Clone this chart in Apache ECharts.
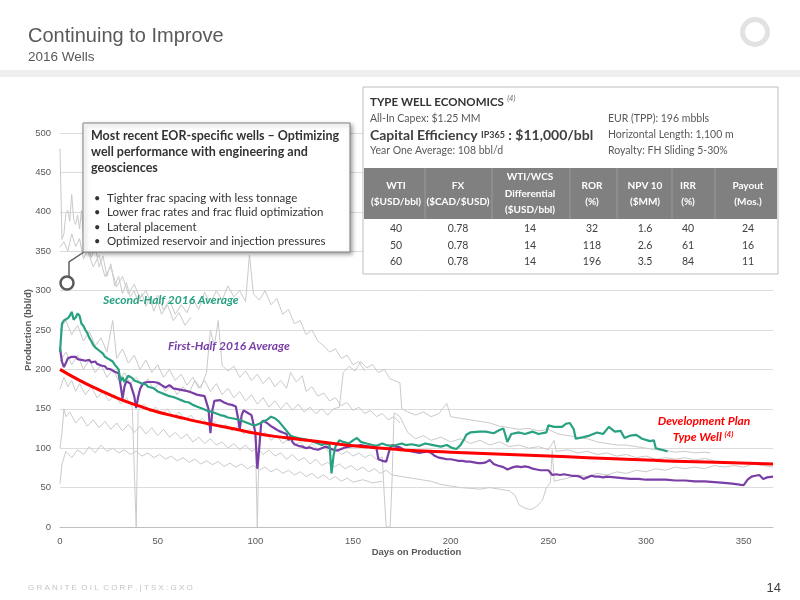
<!DOCTYPE html>
<html>
<head>
<meta charset="utf-8">
<script src="https://cdn.jsdelivr.net/npm/echarts@6/dist/echarts.min.js"></script>
<style>html,body{margin:0;padding:0;background:#fff;}#c{width:800px;height:600px;}</style>
</head>
<body>
<div id="c"></div>
<script>
// ---------- DATA ----------
const typeWell = [[0,200],[10,186],[20,174],[30,163],[40,154],[50,146],[60,140],[70,134],[80,129],[90,124],[100,119],[110,115],[120,112],[130,109],[140,106],[150,103],[160,101],[170,99],[180,97],[200,95],[220,93],[240,91],[260,89],[280,87],[300,85],[320,83],[340,82],[365,80]];

const secondHalfAvg = [[0,222],[1,258],[2,262],[3,260],[4,265],[5,268],[6,273],[7,263],[8,266],[9,271],[10,268],[11,258],[12,255],[13,250],[14,246],[15,240],[16,236],[17,231],[18,228],[19,226],[20,224],[21,222],[22,220],[23,216],[24,218],[25,213],[26,212],[27,210],[28,206],[29,208],[30,200],[31,185],[32,190],[33,184],[34,188],[35,192],[36,191],[37,189],[38,186],[39,187],[40,184],[41,185],[42,182],[43,180],[44,181],[45,178],[46,178],[48,176],[50,172],[52,170],[54,168],[56,166],[58,165],[60,163],[62,161],[64,159],[66,158],[68,155],[70,153],[72,151],[74,149],[76,147],[78,146],[80,144],[82,142],[84,141],[86,139],[88,138],[90,137],[92,136],[94,134],[96,132],[98,130],[100,129],[102,131],[104,134],[106,136],[108,140],[110,138],[112,134],[114,128],[116,122],[118,116],[120,114],[122,113],[124,112],[126,111],[128,110],[130,108],[132,106],[134,104],[136,106],[138,104],[139,68],[140,90],[141,102],[143,110],[145,108],[148,106],[150,110],[152,113],[154,108],[157,106],[160,104],[162,103],[165,106],[167,104],[170,103],[172,104],[175,106],[177,104],[180,105],[184,103],[187,106],[191,104],[195,102],[198,104],[201,100],[203,99],[205,104],[207,112],[208,117],[210,120],[211,122],[215,121],[218,121],[222,119],[225,123],[227,125],[228,123],[229,108],[231,118],[235,120],[238,118],[242,121],[245,118],[249,120],[250,129],[253,127],[257,127],[259,131],[261,132],[263,124],[264,112],[268,114],[271,116],[275,120],[278,118],[281,127],[284,121],[287,122],[289,113],[292,116],[295,117],[298,112],[302,109],[304,110],[305,100],[308,98],[311,96]];

const firstHalfAvg = [[0,227],[1,210],[2,203],[3,208],[4,214],[5,213],[6,216],[7,214],[8,216],[9,213],[10,214],[11,212],[12,213],[13,211],[14,210],[15,212],[16,209],[17,208],[18,210],[19,207],[20,206],[21,205],[22,203],[23,204],[24,201],[25,200],[26,200],[27,198],[28,197],[29,198],[30,195],[31,180],[32,163],[33,178],[34,185],[35,184],[36,182],[37,180],[38,166],[39,151],[40,165],[41,175],[42,180],[43,183],[44,182],[45,184],[46,183],[48,184],[50,183],[52,180],[54,177],[55,175],[56,180],[57,182],[58,176],[60,175],[62,174],[64,173],[66,172],[68,170],[70,168],[72,167],[74,166],[75,167],[76,150],[77,119],[78,148],[79,160],[80,162],[82,161],[84,158],[86,156],[88,155],[90,153],[91,140],[92,124],[93,142],[94,148],[96,145],[98,142],[99,140],[100,120],[101,74],[102,100],[103,132],[104,135],[106,132],[108,128],[110,125],[112,122],[114,120],[116,118],[117,110],[118,115],[119,108],[120,105],[122,103],[124,102],[126,100],[128,101],[130,99],[132,98],[134,100],[136,102],[138,100],[140,98],[142,97],[144,99],[146,101],[148,102],[150,103],[152,103],[154,104],[156,103],[158,102],[160,101],[162,100],[163,86],[165,84],[167,83],[168,92],[169,100],[170,104],[172,102],[174,101],[176,98],[178,97],[180,96],[182,95],[184,94],[186,95],[188,96],[190,94],[192,90],[194,88],[196,87],[198,86],[200,86],[202,85],[204,84],[206,84],[208,83],[210,83],[212,82],[214,81],[216,81],[218,82],[220,85],[222,80],[224,78],[225,77],[227,76],[229,73],[230,72],[232,76],[234,77],[236,76],[238,77],[240,76],[242,74],[244,73],[246,72],[248,72],[250,72],[252,66],[254,67],[256,66],[258,67],[260,66],[262,65],[264,65],[266,64],[268,61],[270,63],[272,65],[274,64],[276,64],[278,63],[280,64],[284,63],[288,62],[292,61],[296,61],[300,60],[305,60],[310,60],[315,59],[320,59],[325,58],[330,58],[335,57],[340,56],[344,55],[347,54],[350,53],[352,60],[354,64],[356,65],[358,66],[360,61],[362,63],[365,64]];

const greyWellA = [[0,480],[1,365],[2,372],[3,398],[4,402],[5,388],[6,422],[7,390],[8,384],[9,396],[10,378],[11,402],[12,372],[13,350],[14,362],[16,342],[18,356],[20,330],[22,344],[24,318],[26,334],[28,306],[30,318],[32,296],[34,310],[36,292],[38,300],[40,284],[42,296],[44,280],[46,292],[48,274],[50,286],[52,270],[55,282],[58,262],[61,272],[64,256],[67,266]];
const greyWellB = [[0,355],[2,362],[4,350],[6,372],[8,356],[10,366],[12,340],[14,352],[17,330],[20,345],[23,318],[26,330],[29,305],[32,318],[35,296],[38,308],[41,290],[44,300],[47,282],[50,294],[53,276],[56,288],[59,270],[62,282],[65,272],[68,290],[71,276],[74,298],[77,284],[80,300],[83,288],[86,306],[89,292],[92,300],[95,286],[97,345],[99,296],[102,288],[105,300],[108,282],[111,290],[114,270],[117,276],[120,258],[123,262],[126,244],[129,250],[132,236],[135,230],[138,222],[141,226],[144,214],[147,218],[150,206],[153,210],[156,198]];
const greyWellC = [[0,250],[3,262],[6,244],[9,256],[12,236],[15,248],[18,230],[21,240],[24,222],[27,262],[29,214],[32,226],[35,208],[38,218],[41,200],[44,212],[47,196],[50,206],[53,190],[56,200],[59,186],[62,194],[65,180],[68,190],[71,176],[74,186],[77,172],[80,182],[83,168],[86,176],[89,164],[92,172],[95,160],[98,168],[101,156],[104,164],[107,152],[110,160],[113,150],[116,158],[119,148],[122,156],[125,146],[128,152],[131,144],[134,150],[137,142],[140,150],[143,152],[145,196],[148,204],[151,198],[154,210],[157,202],[160,206],[163,196],[166,200],[169,188],[172,185],[174,183],[175,150],[178,146],[182,142],[186,146],[190,140],[194,144],[198,157],[200,140],[205,138],[210,136],[215,134],[220,132],[225,128],[230,126],[235,124],[240,125],[245,122],[250,124],[255,118],[260,116],[265,114],[270,112],[275,108],[280,106],[285,104],[290,104],[295,102],[300,100],[305,98],[310,97],[315,95],[320,96],[325,94],[330,95],[333,94]];
const greyWellD = [[0,175],[2,190],[4,178],[6,186],[8,172],[10,182],[13,168],[16,178],[19,164],[22,172],[25,160],[28,168],[31,156],[34,164],[37,152],[38,150],[39,0],[40,148],[43,156],[46,146],[49,152],[52,142],[55,150],[58,140],[61,146],[64,136],[67,142],[70,132],[73,138],[76,128],[79,134],[82,126],[85,130],[88,122],[91,128],[94,118],[97,124],[100,116],[101,0],[102,114],[105,120],[108,110],[111,116],[114,106],[117,112],[120,104],[123,108],[126,100],[129,106],[132,98],[135,102],[138,94],[141,100],[144,92],[147,96],[150,90],[153,94],[156,88],[159,92],[162,86],[165,89],[166,40],[167,0],[169,0],[170,60],[171,145],[174,140],[178,120],[182,112],[186,116],[190,110],[195,114],[200,108],[205,112],[210,106],[215,110],[220,104],[225,108],[230,102],[235,104],[240,100],[245,102],[250,98],[253,110],[254,96],[260,98],[265,94],[270,96],[275,92],[280,94],[285,90],[290,92],[295,88],[300,90],[305,86],[310,88],[315,86],[320,88],[325,85],[330,87],[335,84]];
const greyWellE = [[0,100],[1,120],[2,150],[3,140],[5,146],[8,132],[11,140],[14,128],[17,136],[20,126],[23,134],[26,124],[29,132],[32,122],[35,130],[38,120],[41,128],[44,118],[47,126],[50,116],[53,124],[56,114],[59,120],[62,112],[65,118],[68,108],[71,114],[74,106],[77,112],[80,104],[83,108],[86,100],[89,106],[92,98],[95,104],[98,96],[101,100],[104,92],[107,98],[110,90],[113,94],[116,86],[119,92],[122,84],[125,88],[128,80],[131,86],[134,78],[137,82],[140,76],[143,80],[146,74],[149,78],[152,72],[155,76],[158,70],[161,74],[164,68],[167,72],[170,66],[175,64],[180,62],[185,60],[190,58],[195,54],[200,52],[205,50],[210,49],[215,48],[220,50],[225,48],[230,46],[233,40],[235,28],[238,24],[241,22],[244,26],[247,34],[249,50],[251,56],[252,98],[253,58],[256,60],[260,62],[265,66],[270,64],[275,68],[280,66],[285,70],[290,68],[295,72],[300,70],[305,74],[310,72],[315,76],[320,74],[325,76],[330,74],[335,78],[340,76],[345,78],[350,76],[355,80],[360,78],[365,76]];
const greyWellF = [[0,55],[1,80],[3,96],[6,88],[9,98],[12,92],[15,102],[18,94],[21,104],[24,96],[27,100],[30,94],[33,98],[36,92],[39,96],[42,90],[45,94],[48,88],[51,92],[54,86],[57,90],[60,84],[63,88],[66,82],[69,86],[72,80],[75,84],[78,79],[81,83],[84,77],[87,81],[90,76],[93,80],[96,74],[99,78],[102,72],[105,76],[108,70],[111,74],[114,68],[117,72],[120,66],[123,70],[126,64],[129,68],[132,62],[135,66],[138,60],[141,64],[144,58],[147,62],[150,57],[155,60],[160,56],[165,58]];
const greyWellG = [[0,210],[3,222],[6,206],[9,218],[12,200],[15,212],[18,196],[21,206],[24,190],[27,200],[30,186],[33,196],[36,182],[39,190],[42,178],[45,188],[48,174],[51,184],[54,172],[57,180],[60,168],[63,178],[66,170],[69,186],[72,176],[75,196],[77,250],[79,230],[81,262],[83,205],[86,198],[89,204],[92,190],[95,198],[98,186],[101,194],[104,182],[107,190],[110,178],[113,186],[116,176],[118,196],[121,184],[124,192],[126,172],[129,178],[132,166],[135,170],[138,160],[141,164],[144,154],[147,158],[150,148],[153,152],[156,144],[159,148],[162,140],[165,144],[168,136],[171,140],[174,132]];
const greyWells = [greyWellA, greyWellB, greyWellC, greyWellD, greyWellE, greyWellF, greyWellG];

const xTicks = [0,50,100,150,200,250,300,350];
const yTicks = [0,50,100,150,200,250,300,350,400,450,500];

const tableHeaders = [['WTI','($USD/bbl)'],['FX','($CAD/$USD)'],['WTI/WCS','Differential','($USD/bbl)'],['ROR','(%)'],['NPV 10','($MM)'],['IRR','(%)'],['Payout','(Mos.)']];
const tableRows = [['40','0.78','14','32','1.6','40','24'],['50','0.78','14','118','2.6','61','16'],['60','0.78','14','196','3.5','84','11']];
const econLeft = ['All-In Capex: $1.25 MM','Year One Average: 108 bbl/d'];
const econRight = ['EUR (TPP): 196 mbbls','Horizontal Length: 1,100 m','Royalty: FH Sliding 5-30%'];
const calloutTitle = ['Most recent EOR-specific wells – Optimizing','well performance with engineering and','geosciences'];
const calloutBullets = ['Tighter frac spacing with less tonnage','Lower frac rates and frac fluid optimization','Lateral placement','Optimized reservoir and injection pressures'];

// ---------- CHART ----------
const chart = echarts.init(document.getElementById('c'), null, {renderer:'canvas'});
const F = "Lato, 'Open Sans', sans-serif";
const AX = "'Liberation Sans Narrow', 'Liberation Sans', Arial, sans-serif";

const series = [];
greyWells.forEach((w,i)=>{
  series.push({type:'line', name:'well'+i, data:w, showSymbol:false, symbol:'none', silent:true,
    lineStyle:{color:'#cacaca', width:1}, z:1});
});
series.push({type:'line', name:'First-Half 2016 Average', data:firstHalfAvg, symbol:'none', lineStyle:{color:'#7a3fa6', width:2.2}, z:3});
series.push({type:'line', name:'Second-Half 2016 Average', data:secondHalfAvg, symbol:'none', lineStyle:{color:'#27a181', width:2.2}, z:4});
series.push({type:'line', name:'Development Plan Type Well', data:typeWell, symbol:'none', smooth:true, lineStyle:{color:'#ff0000', width:3}, z:5});

const g = [];
// header
g.push({type:'text', style:{text:'Continuing to Improve', x:28, y:36, font:"20px 'Liberation Sans', Arial, sans-serif", fill:'#595959', textVerticalAlign:'middle'}});
g.push({type:'text', style:{text:'2016 Wells', x:28, y:57, font:"13.5px 'Liberation Sans', Arial, sans-serif", fill:'#595959', textVerticalAlign:'middle'}});
g.push({type:'rect', shape:{x:0,y:70,width:800,height:7}, style:{fill:'#efefef'}});
g.push({type:'ring', shape:{cx:755, cy:32, r:15, r0:10}, style:{fill:'#e2e2e2'}});
// footer
g.push({type:'text', style:{text:'G R A N I T E  O I L  C O R P . | T S X : G X O', x:28, y:588, font:"8px 'Liberation Sans', Arial, sans-serif", fill:'#c4c4c4', textVerticalAlign:'middle'}});
g.push({type:'text', style:{text:'14', x:781, y:588, font:"13px 'Liberation Sans Narrow', 'Liberation Sans', sans-serif", fill:'#404040', textAlign:'right', textVerticalAlign:'middle'}});

// callout
g.push({type:'polyline', shape:{points:[[84,252],[69,262],[69,276]]}, style:{stroke:'#606060', lineWidth:1.5, fill:null}, z:10});
g.push({type:'circle', shape:{cx:67, cy:283, r:6.5}, style:{fill:'#fff', stroke:'#5a5a5a', lineWidth:2.5}, z:10});
g.push({type:'rect', shape:{x:83,y:123,width:267,height:129}, style:{fill:'#fff', stroke:'#808080', lineWidth:1, shadowBlur:4, shadowOffsetX:2, shadowOffsetY:2, shadowColor:'rgba(0,0,0,0.35)'}, z:10});
calloutTitle.forEach((t,i)=>{
  g.push({type:'text', style:{text:t, x:91, y:136+i*16, font:"bold 12.5px "+F, fill:'#333', textVerticalAlign:'middle'}, z:11});
});
calloutBullets.forEach((t,i)=>{
  g.push({type:'text', style:{text:'•', x:94, y:198+i*14.5, font:"11px "+F, fill:'#333', textVerticalAlign:'middle'}, z:11});
  g.push({type:'text', style:{text:t, x:107, y:198+i*14.5, font:"11.5px "+F, fill:'#333', textVerticalAlign:'middle'}, z:11});
});

// economics table
g.push({type:'rect', shape:{x:363,y:87,width:415,height:187}, style:{fill:'#fff', stroke:'#bdbdbd', lineWidth:1}, z:10});
g.push({type:'text', style:{text:'{b|TYPE WELL ECONOMICS} {s|(4)}', x:370, y:102, textVerticalAlign:'middle',
  rich:{b:{font:"bold 11.5px "+F, fill:'#333'}, s:{font:"italic 7.5px "+F, fill:'#666', verticalAlign:'top', padding:[0,0,6,0]}}}, z:11});
g.push({type:'text', style:{text:econLeft[0], x:370, y:119, font:"10.5px "+F, fill:'#595959', textVerticalAlign:'middle'}, z:11});
g.push({type:'text', style:{text:'{a|Capital Efficiency }{b|IP365}{a| : $11,000/bbl}', x:370, y:135, textVerticalAlign:'middle',
  rich:{a:{font:"bold 14px "+F, fill:'#404040'}, b:{font:"bold 9px "+F, fill:'#404040'}}}, z:11});
g.push({type:'text', style:{text:econLeft[1], x:370, y:151, font:"10.5px "+F, fill:'#595959', textVerticalAlign:'middle'}, z:11});
econRight.forEach((t,i)=>{
  g.push({type:'text', style:{text:t, x:608, y:119+i*16, font:"10.5px "+F, fill:'#595959', textVerticalAlign:'middle'}, z:11});
});
g.push({type:'rect', shape:{x:364,y:168,width:413,height:51}, style:{fill:'#808080'}, z:11});
const colX = [396,458,530,592,645,688,748];
const sepX = [425,492,570,617,672,715];
sepX.forEach(x=>g.push({type:'line', shape:{x1:x,y1:168,x2:x,y2:219}, style:{stroke:'#9a9a9a', lineWidth:1}, z:12}));
tableHeaders.forEach((h,ci)=>{
  const ys = h.length===3 ? [177,194,210] : [186,202];
  h.forEach((t,li)=>g.push({type:'text', style:{text:t, x:colX[ci], y:ys[li], font:"bold 10px "+F, fill:'#fff', textAlign:'center', textVerticalAlign:'middle'}, z:13}));
});
tableRows.forEach((r,ri)=>{
  r.forEach((t,ci)=>g.push({type:'text', style:{text:t, x:colX[ci], y:229+ri*16.5, font:"10.5px "+F, fill:'#404040', textAlign:'center', textVerticalAlign:'middle'}, z:11}));
});

// annotations
g.push({type:'text', style:{text:'Second-Half 2016 Average', x:103, y:300, font:"italic bold 12px "+F, fill:'#27a181', textVerticalAlign:'middle'}, z:6});
g.push({type:'text', style:{text:'First-Half 2016 Average', x:168, y:346, font:"italic bold 12px "+F, fill:'#7a3fa6', textVerticalAlign:'middle'}, z:6});
g.push({type:'text', style:{text:'Development Plan', x:704, y:421, font:"italic bold 12px "+F, fill:'#ff0000', textAlign:'center', textVerticalAlign:'middle'}, z:6});
g.push({type:'text', style:{text:'{a|Type Well }{s|(4)}', x:703, y:437, textAlign:'center', textVerticalAlign:'middle',
  rich:{a:{font:"italic bold 12px "+F, fill:'#ff0000'}, s:{font:"italic bold 8px "+F, fill:'#ff0000', verticalAlign:'top', padding:[0,0,5,0]}}}, z:6});

chart.setOption({
  animation:false,
  backgroundColor:'#fff',
  grid:{left:60, right:27, top:133, bottom:73, containLabel:false},
  xAxis:{type:'value', min:0, max:365, interval:50,
    name:'Days on Production', nameLocation:'middle', nameGap:20, nameMoveOverlap:false,
    nameTextStyle:{fontFamily:AX, fontSize:9.5, fontWeight:'bold', color:'#595959'},
    axisLine:{show:true, lineStyle:{color:'#bfbfbf'}}, axisTick:{show:false},
    splitLine:{show:false},
    axisLabel:{fontFamily:AX, fontSize:9.5, color:'#595959', margin:9,
      formatter:v=> xTicks.indexOf(v)>=0 ? String(v) : ''}},
  yAxis:{type:'value', min:0, max:500, interval:50,
    name:'Production (bbl/d)', nameLocation:'middle', nameGap:27, nameMoveOverlap:false,
    nameTextStyle:{fontFamily:AX, fontSize:9.5, fontWeight:'bold', color:'#595959'},
    axisLine:{show:false}, axisTick:{show:false},
    splitLine:{show:true, lineStyle:{color:'#dcdcdc', width:1}},
    axisLabel:{fontFamily:AX, fontSize:9.5, color:'#595959', margin:9,
      formatter:v=> yTicks.indexOf(v)>=0 ? String(v) : ''}},
  series:series,
  graphic:g
});
</script>
</body>
</html>
